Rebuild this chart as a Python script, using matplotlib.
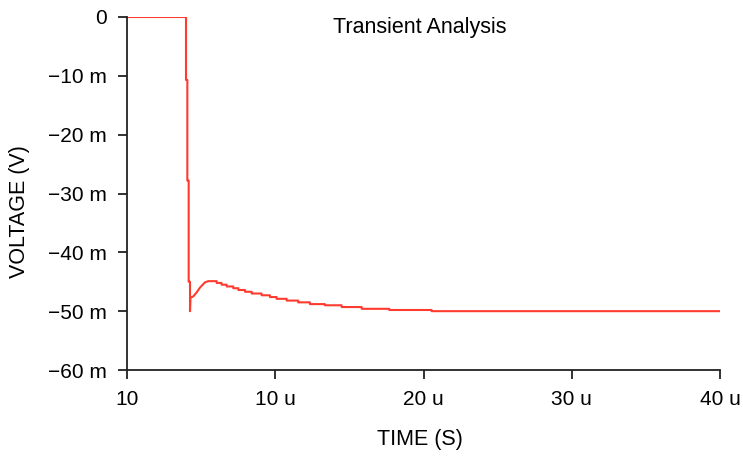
import matplotlib
matplotlib.use("Agg")
import matplotlib.pyplot as plt

plt.rcParams['font.family'] = ['Liberation Sans', 'DejaVu Sans']

# time in microseconds, voltage in millivolts
t_us = [0.0, 3.98, 3.98, 4.07, 4.07, 4.16, 4.16, 4.25, 4.25, 4.28,
        4.47, 4.70, 4.92, 5.26, 5.48, 6.05, 6.05, 6.38, 6.38, 6.72,
        6.72, 7.17, 7.17, 7.51, 7.51, 7.96, 7.96, 8.41, 8.41, 9.08,
        9.08, 9.64, 9.64, 10.09, 10.09, 10.77, 10.77, 11.55, 11.55, 12.34,
        12.34, 13.35, 13.35, 14.48, 14.48, 15.83, 15.83, 17.69, 17.69, 20.55,
        20.55, 40.0]
v_mv = [0.0, 0.0, -10.7, -10.7, -27.8, -27.8, -45.0, -45.0, -50.0, -47.7,
        -47.5, -46.8, -46.0, -45.1, -44.9, -44.9, -45.2, -45.2, -45.5, -45.5,
        -45.8, -45.8, -46.1, -46.1, -46.4, -46.4, -46.7, -46.7, -47.0, -47.0,
        -47.3, -47.3, -47.6, -47.6, -47.9, -47.9, -48.2, -48.2, -48.5, -48.5,
        -48.8, -48.8, -49.0, -49.0, -49.3, -49.3, -49.6, -49.6, -49.8, -49.8,
        -50.0, -50.0]

xticks = [0, 10, 20, 30, 40]
xlabels = ["10", "10 u", "20 u", "30 u", "40 u"]
yticks = [0, -10, -20, -30, -40, -50, -60]
ylabels = ["0", "\u221210 m", "\u221220 m", "\u221230 m", "\u221240 m", "\u221250 m", "\u221260 m"]

fig = plt.figure(figsize=(7.43, 4.59), dpi=100)
ax = fig.add_axes([127 / 743, 89 / 459, 593 / 743, 353 / 459])

ax.plot(t_us, v_mv, color="#ff3b30", linewidth=1.5)

ax.set_xlim(0, 40)
ax.set_ylim(-60, 0)
ax.set_xticks(xticks)
ax.set_xticklabels(xlabels)
ax.set_yticks(yticks)
ax.set_yticklabels(ylabels)

for side in ["top", "right"]:
    ax.spines[side].set_visible(False)
for side in ["left", "bottom"]:
    ax.spines[side].set_linewidth(1.3)
    ax.spines[side].set_color("#222222")
ax.tick_params(direction="out", length=6.5, width=1.3, color="#222222",
               labelsize=15, pad=8)

fig.text(420 / 743, 1 - 28 / 459, "Transient Analysis", fontsize=15.5,
         ha="center", va="center")
fig.text(420 / 743, 1 - 440 / 459, "TIME (S)", fontsize=15.5,
         ha="center", va="center")
fig.text(20 / 743, 1 - 212 / 459, "VOLTAGE (V)", fontsize=15.5,
         ha="center", va="center", rotation=90)

fig.savefig("out.png", dpi=100)
